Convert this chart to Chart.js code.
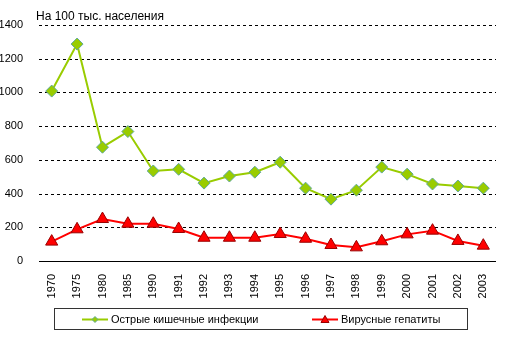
<!DOCTYPE html>
<html>
<head>
<meta charset="utf-8">
<script src="https://cdn.jsdelivr.net/npm/chart.js@4"></script>
<style>
  html, body { margin: 0; padding: 0; background: #fff; }
  #wrap { width: 511px; height: 340px; position: relative; }
</style>
</head>
<body>
<div id="wrap"><canvas id="infChart"></canvas></div>
<script>
const years = ['1970', '1975', '1980', '1985', '1990', '1991', '1992', '1993', '1994', '1995',
               '1996', '1997', '1998', '1999', '2000', '2001', '2002', '2003'];
const intestinal = [1008, 1287, 675, 768, 534, 544, 462, 504, 527, 586, 432, 367, 420, 557, 515, 457, 445, 432];
const hepatitis = [115, 188, 249, 221, 221, 190, 138, 138, 138, 160, 132, 95, 81, 117, 158, 180, 119, 91];
const yTicks = [0, 200, 400, 600, 800, 1000, 1200, 1400];
const unitLabel = 'На 100 тыс. населения';
const seriesNames = ['Острые кишечные инфекции', 'Вирусные гепатиты'];

const FONT = 'Arial, "Liberation Sans", sans-serif';

// dashed horizontal grid, drawn from the y scale
const dashGridPlugin = {
    id: 'dashGrid',
    beforeDatasetsDraw(chart) {
        const ctx = chart.ctx;
        const y = chart.scales.y;
        const area = chart.chartArea;
        ctx.save();
        ctx.strokeStyle = '#000';
        ctx.lineWidth = 1;
        ctx.setLineDash([3, 3]);
        yTicks.forEach(v => {
            if (v === 0) return;
            const py = Math.round(y.getPixelForValue(v)) + 0.5;
            ctx.beginPath();
            ctx.moveTo(area.left, py);
            ctx.lineTo(area.right, py);
            ctx.stroke();
        });
        ctx.restore();
    }
};

// baseline, axis caption on top and the boxed legend below
const extrasPlugin = {
    id: 'extras',
    afterDraw(chart) {
        const ctx = chart.ctx;
        const xs = chart.scales.x;
        ctx.save();
        ctx.setLineDash([]);
        ctx.strokeStyle = '#000';
        ctx.lineWidth = 1;
        const by = Math.round(xs.top) + 0.5;
        ctx.beginPath();
        ctx.moveTo(xs.left, by);
        ctx.lineTo(xs.right, by);
        ctx.stroke();

        ctx.fillStyle = '#000';
        ctx.font = '12px ' + FONT;
        ctx.textBaseline = 'alphabetic';
        ctx.textAlign = 'left';
        ctx.fillText(unitLabel, 36, 20);

        // legend box
        ctx.strokeStyle = '#333';
        ctx.lineWidth = 1;
        ctx.strokeRect(54.5, 308.5, 413, 21);

        const items = [{x: 82, ds: 0}, {x: 312, ds: 1}];
        const cy = 319.5;
        items.forEach(it => {
            const ds = chart.data.datasets[it.ds];
            ctx.strokeStyle = ds.borderColor;
            ctx.lineWidth = 2;
            ctx.beginPath();
            ctx.moveTo(it.x, cy);
            ctx.lineTo(it.x + 26, cy);
            ctx.stroke();
            ctx.fillStyle = ds.pointBackgroundColor;
            ctx.strokeStyle = ds.pointBorderColor;
            ctx.lineWidth = 1;
            const mx = it.x + 13;
            ctx.beginPath();
            if (ds.pointStyle === 'rectRot') {
                ctx.moveTo(mx, cy - 3);
                ctx.lineTo(mx + 3, cy);
                ctx.lineTo(mx, cy + 3);
                ctx.lineTo(mx - 3, cy);
            } else {
                ctx.moveTo(mx, cy - 4);
                ctx.lineTo(mx + 4, cy + 3);
                ctx.lineTo(mx - 4, cy + 3);
            }
            ctx.closePath();
            ctx.fill();
            ctx.stroke();
            ctx.fillStyle = '#000';
            ctx.font = '11px ' + FONT;
            ctx.textBaseline = 'middle';
            ctx.fillText(ds.label, it.x + 29, cy);
        });
        ctx.restore();
    }
};

const infCtx = document.getElementById('infChart').getContext('2d');
const infChart = new Chart(infCtx, {
    type: 'line',
    data: {
        labels: years,
        datasets: [{
            label: seriesNames[0],
            data: intestinal,
            borderColor: '#99CC00',
            borderWidth: 2,
            pointStyle: 'rectRot',
            pointRadius: 6,
            pointBackgroundColor: '#99CC00',
            pointBorderColor: '#5FA89A',
            pointBorderWidth: 1,
            tension: 0
        }, {
            label: seriesNames[1],
            data: hepatitis,
            borderColor: '#FF0000',
            borderWidth: 2,
            pointStyle: 'triangle',
            pointRadius: 7,
            pointBackgroundColor: '#FF0000',
            pointBorderColor: '#990000',
            pointBorderWidth: 1,
            tension: 0
        }]
    },
    options: {
        responsive: true,
        maintainAspectRatio: false,
        animation: false,
        layout: { padding: { top: 25, right: 15, left: 0, bottom: 0 } },
        plugins: {
            legend: { display: false },
            tooltip: { enabled: false }
        },
        scales: {
            x: {
                offset: true,
                grid: { display: false },
                border: { display: false },
                ticks: {
                    color: '#000',
                    font: { family: FONT, size: 11 },
                    minRotation: 90,
                    maxRotation: 90,
                    autoSkip: false,
                    padding: 5
                },
                afterFit(scale) { scale.height = 79; }
            },
            y: {
                min: 0,
                max: 1400,
                afterBuildTicks(scale) { scale.ticks = yTicks.map(v => ({ value: v })); },
                border: { display: false },
                grid: { display: false },
                ticks: {
                    color: '#000',
                    font: { family: FONT, size: 11 },
                    padding: 8,
                    callback: v => String(v)
                },
                afterFit(scale) { scale.width = 39; }
            }
        }
    },
    plugins: [dashGridPlugin, extrasPlugin]
});
</script>
</body>
</html>
